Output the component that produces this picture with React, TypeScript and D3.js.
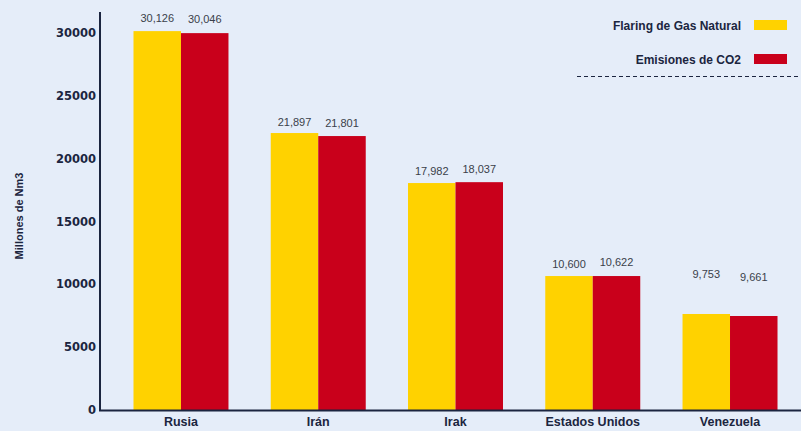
import React from "react";
import * as d3 from "d3";

const categories = ["Rusia", "Irán", "Irak", "Estados Unidos", "Venezuela"];
const seriesNames = ["Flaring de Gas Natural", "Emisiones de CO2"];
// bar heights as drawn
const flaringValues = [30150, 22040, 18060, 10660, 7640];
const co2Values = [29990, 21800, 18130, 10660, 7480];
// value labels as printed
const flaringLabels = ["30,126", "21,897", "17,982", "10,600", "9,753"];
const co2Labels = ["30,046", "21,801", "18,037", "10,622", "9,661"];
const flaringLabelValues = [30126, 21897, 17982, 10600, 9753];
const co2LabelValues = [30046, 21801, 18137, 10722, 9561];
const yTicks = [0, 5000, 10000, 15000, 20000, 25000, 30000];
const yTitle = "Millones de Nm3";

const W = 801;
const H = 431;
const BG = "#e5edf9";
const NAVY = "#1b2540";
const YELLOW = "#ffd200";
const RED = "#c9001b";
const colors = [YELLOW, RED];

export default function App() {
  const x0 = d3.scaleBand<string>().domain(categories).range([100, 811]).paddingInner(0.308).paddingOuter(0.244);
  const x1 = d3.scaleBand<number>().domain([0, 1]).range([0, x0.bandwidth()]);
  const y = d3.scaleLinear().domain([0, 30000]).range([410, 33]);
  const series = [flaringValues, co2Values];
  const labels = [flaringLabels, co2Labels];
  const labelVals = [flaringLabelValues, co2LabelValues];

  return (
    <svg width={W} height={H} style={{ position: "absolute", left: 0, top: 0, background: BG }}>
      <rect x={0} y={0} width={W} height={H} fill={BG} />
      {categories.map((c, i) => (
        <g key={c} transform={`translate(${x0(c)},0)`}>
          {series.map((s, j) => (
            <rect key={j} x={x1(j)} y={y(s[i])} width={x1.bandwidth()} height={y(0) - y(s[i])} fill={colors[j]} />
          ))}
          {series.map((s, j) => (
            <text
              key={"l" + j}
              x={(x1(j) as number) + x1.bandwidth() / 2}
              y={y(labelVals[j][i]) - 9}
              textAnchor="middle"
              fontFamily="Liberation Sans, Arial, sans-serif"
              fontSize={11}
              fill="#3a3f4a"
            >
              {labels[j][i]}
            </text>
          ))}
          <text
            x={x0.bandwidth() / 2}
            y={426}
            textAnchor="middle"
            fontFamily="Liberation Sans, Arial, sans-serif"
            fontWeight="bold"
            fontSize={12.5}
            fill={NAVY}
          >
            {c}
          </text>
        </g>
      ))}
      {/* axes */}
      <line x1={100} y1={12} x2={100} y2={411} stroke={NAVY} strokeWidth={2} />
      <line x1={99} y1={410.5} x2={801} y2={410.5} stroke={NAVY} strokeWidth={2} />
      {yTicks.map((t) => (
        <text
          key={t}
          x={96}
          y={y(t) + 4}
          textAnchor="end"
          fontFamily="DejaVu Sans, sans-serif"
          fontWeight="bold"
          fontSize={11.5}
          fill={NAVY}
        >
          {t}
        </text>
      ))}
      <text
        transform={`translate(23,216) rotate(-90)`}
        textAnchor="middle"
        fontFamily="Liberation Sans, Arial, sans-serif"
        fontWeight="bold"
        fontSize={11}
        fill={NAVY}
      >
        {yTitle}
      </text>
      {/* legend */}
      {seriesNames.map((n, j) => (
        <g key={n}>
          <text
            x={741}
            y={30 + j * 34}
            textAnchor="end"
            fontFamily="Liberation Sans, Arial, sans-serif"
            fontWeight="bold"
            fontSize={12}
            fill={NAVY}
          >
            {n}
          </text>
          <rect x={754} y={20 + j * 34} width={33} height={10} fill={colors[j]} />
        </g>
      ))}
      <line x1={577} y1={76.5} x2={801} y2={76.5} stroke={NAVY} strokeWidth={1} strokeDasharray="4,3" />
    </svg>
  );
}
